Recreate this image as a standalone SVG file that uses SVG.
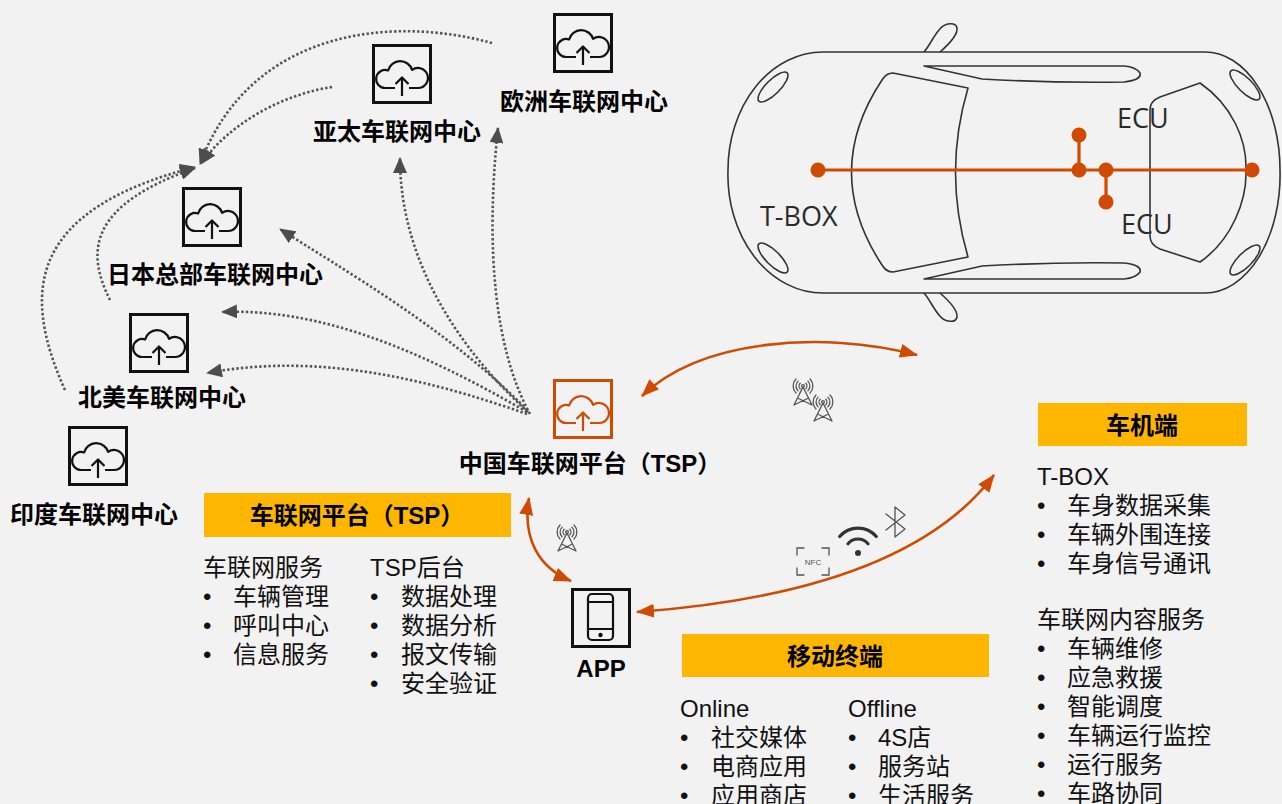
<svg xmlns="http://www.w3.org/2000/svg" width="1282" height="804" viewBox="0 0 1282 804">
<style>
.lbl{font-family:"Liberation Sans","Noto Sans CJK SC",sans-serif;font-weight:700;font-size:24px;fill:#000;text-anchor:middle}
.body{font-family:"Liberation Sans","Noto Sans CJK SC",sans-serif;font-size:24px;fill:#111}
.bar{fill:#ffb600}
.dot-link{fill:none;stroke:#555;stroke-width:2.6;stroke-dasharray:2.4 2.2;marker-end:url(#ah-gray)}
.link{fill:none;stroke:#d04a02;stroke-width:2.6;marker-start:url(#ah-or);marker-end:url(#ah-or)}
.car{fill:none;stroke:#333;stroke-width:1.6;stroke-linejoin:round}
.ico{fill:none;stroke:#555;stroke-width:1.3;stroke-linecap:round}
.cartxt{font-family:"Open Sans","Noto Sans",sans-serif;font-size:27px;fill:#2b2b2b}
.bus{stroke:#d04a02;stroke-width:3.2;fill:none}
.busdot{fill:#d04a02}
</style>
<defs>
  <marker id="ah-gray" markerUnits="userSpaceOnUse" markerWidth="16" markerHeight="14" refX="15" refY="7" orient="auto">
    <path d="M0,0 L16,7 L0,14 Z" fill="#4d4d4d"/>
  </marker>
  <marker id="ah-or" markerUnits="userSpaceOnUse" markerWidth="18" markerHeight="14" refX="17" refY="7" orient="auto-start-reverse">
    <path d="M0,0 L18,7 L0,14 Z" fill="#d04a02"/>
  </marker>
  <symbol id="cloud" viewBox="0 0 60 60">
    <rect x="1.5" y="1.5" width="57" height="57" fill="none" stroke="currentColor" stroke-width="3"/>
    <g fill="none" stroke="currentColor" stroke-width="2.2" stroke-linejoin="round">
      <path d="M23,44 H13 A9,9 0 1 1 16.1,26.5 A12.5,12.5 0 0 1 40.1,25.9 A10,10 0 1 1 46,44 H37"/>
      <path d="M30,52 V34 M23.5,40 L30,33.5 L36.5,40"/>
    </g>
  </symbol>
  <symbol id="tower" viewBox="-12 -12 24 32" overflow="visible">
    <g class="ico">
      <path d="M0,1 L-9,19 M0,1 L9,19 M-5.5,12 L9,19 M5.5,12 L-9,19"/>
      <circle cx="0" cy="0" r="1.4"/>
      <path d="M-2.8,-2.8 A4,4 0 0 0 -2.8,2.8 M2.8,-2.8 A4,4 0 0 1 2.8,2.8"/>
      <path d="M-4.9,-4.9 A7,7 0 0 0 -4.9,4.9 M4.9,-4.9 A7,7 0 0 1 4.9,4.9"/>
      <path d="M-7,-7 A10,10 0 0 0 -7,7 M7,-7 A10,10 0 0 1 7,7"/>
    </g>
  </symbol>
</defs>

<rect width="1282" height="804" fill="#f2f2f2"/>

<!-- car seen from above, with the in-vehicle bus -->
<g id="car">
  <path class="car" d="M823,52 H1205 A75,118 0 0 1 1280,170 A75,118 0 0 1 1205,293 H823 A95,118 0 0 1 728,170 A95,118 0 0 1 823,52 Z"/>
  <path class="car" d="M924,52 C930,45 933,37 939,30 C945,22 956,22 957,28 C958,35 948,45 940,52"/>
  <path class="car" d="M924,293 C930,300 933,308 939,315 C945,323 956,323 957,317 C958,310 948,300 940,293"/>
  <ellipse class="car" cx="773" cy="87" rx="20" ry="7" transform="rotate(-45 773 87)"/>
  <ellipse class="car" cx="773" cy="258" rx="20" ry="7" transform="rotate(45 773 258)"/>
  <ellipse class="car" cx="1245" cy="85" rx="20" ry="7" transform="rotate(45 1245 85)"/>
  <ellipse class="car" cx="1245" cy="260" rx="20" ry="7" transform="rotate(-45 1245 260)"/>
  <path class="car" d="M893,73 L968,88 Q943,172 968,257 L893,272 Q886,272 882,265 Q821,172 882,80 Q886,73 893,73 Z"/>
  <path class="car" d="M924,66 L982,79 Q1050,83 1124,82 Q1142,80 1140,73 Q1136,67 1124,66 Z"/>
  <path class="car" d="M924,279 L982,266 Q1050,262 1124,263 Q1142,265 1140,272 Q1136,278 1124,279 Z"/>
  <path class="car" d="M1200,83 C1232,105 1247,140 1246,170 C1247,200 1232,240 1200,262 L1160,249 Q1150,245 1150,236 V110 Q1150,101 1160,97 Z"/>
  <g id="bus">
    <path class="bus" d="M818,170 H1252 M1079,170 V135 M1106,170 V202"/>
    <circle class="busdot" cx="818" cy="170" r="7.5"/>
    <circle class="busdot" cx="1079" cy="170" r="7.5"/>
    <circle class="busdot" cx="1079" cy="135" r="7.5"/>
    <circle class="busdot" cx="1106" cy="170" r="7.5"/>
    <circle class="busdot" cx="1106" cy="202" r="7.5"/>
    <circle class="busdot" cx="1252" cy="170" r="7.5"/>
  </g>
  <text class="cartxt" x="1117" y="128">ECU</text>
  <text class="cartxt" x="1121" y="234">ECU</text>
  <text class="cartxt" x="760" y="226">T-BOX</text>
</g>

<!-- connectors -->
<g id="connectors">
  <path class="dot-link" d="M528,412 C460,350 400,262 400,158"/>
  <path class="dot-link" d="M530,414 C495,350 485,250 498,128"/>
  <path class="dot-link" d="M527,410 C450,330 340,268 280,229"/>
  <path class="dot-link" d="M527,412 C420,350 320,308 222,312"/>
  <path class="dot-link" d="M527,414 C430,380 320,352 207,373"/>
  <path class="dot-link" d="M492,43 C390,15 250,30 200,164"/>
  <path class="dot-link" d="M332,87 C280,95 228,125 201,164"/>
  <path class="dot-link" d="M65,390 C20,290 30,210 195,167"/>
  <path class="dot-link" d="M110,300 C85,250 90,205 195,168"/>
  <path class="link" d="M642,396 C700,340 820,330 917,355"/>
  <path class="link" d="M529,498 C522,540 540,568 571,581"/>
  <path class="link" d="M637,612 C800,600 930,560 994,475"/>
</g>

<!-- wireless icons along the links -->
<g id="radio-icons">
  <use href="#tower" x="791" y="374" width="24" height="32"/>
  <use href="#tower" x="811" y="390" width="24" height="32"/>
  <use href="#tower" x="555" y="520" width="24" height="32"/>
  <g id="nfc" class="ico" stroke-width="1.8">
    <path d="M797,555 V548 H804 M822,548 H829 V555 M829,568 V575 H822 M804,575 H797 V568"/>
    <text x="813" y="565" font-family="Liberation Sans,sans-serif" font-size="8" fill="#555" stroke="none" text-anchor="middle">NFC</text>
  </g>
  <g id="wifi" fill="none" stroke="#333" stroke-width="3.2" stroke-linecap="round">
    <path d="M848,543.7 A13,13 0 0 1 868,543.7"/>
    <path d="M839.7,536.5 A24,24 0 0 1 876.3,536.5"/>
    <circle cx="858" cy="553" r="3" fill="#333" stroke="none"/>
  </g>
  <path id="bluetooth" class="ico" stroke-width="1.8" stroke-linejoin="round" d="M886,514 L905,529 L895,537 V507 L905,515 L886,530"/>
</g>

<!-- regional centres -->
<g id="node-eu">
  <use href="#cloud" x="553" y="13" width="60" height="60" color="#111"/>
  <text class="lbl" x="584" y="110">欧洲车联网中心</text>
</g>
<g id="node-apac">
  <use href="#cloud" x="372" y="44" width="60" height="60" color="#111"/>
  <text class="lbl" x="397" y="140">亚太车联网中心</text>
</g>
<g id="node-jp">
  <use href="#cloud" x="182" y="187" width="60" height="60" color="#111"/>
  <text class="lbl" x="215" y="283">日本总部车联网中心</text>
</g>
<g id="node-na">
  <use href="#cloud" x="129" y="313" width="60" height="60" color="#111"/>
  <text class="lbl" x="162" y="406">北美车联网中心</text>
</g>
<g id="node-in">
  <use href="#cloud" x="68" y="426" width="60" height="60" color="#111"/>
  <text class="lbl" x="94" y="523">印度车联网中心</text>
</g>
<g id="node-cn">
  <use href="#cloud" x="553" y="379" width="60" height="60" color="#d04a02"/>
  <text class="lbl" x="590" y="472">中国车联网平台（TSP）</text>
</g>

<!-- mobile app -->
<g id="node-app">
  <rect x="572.5" y="589.5" width="57" height="57" fill="none" stroke="#111" stroke-width="3"/>
  <rect x="588" y="594" width="25" height="46" rx="4" fill="none" stroke="#111" stroke-width="2.2"/>
  <path d="M588,602 H613 M588,629 H613" stroke="#111" stroke-width="2.2"/>
  <circle cx="600.5" cy="635" r="2.2" fill="#111"/>
  <text class="lbl" x="601" y="677">APP</text>
</g>

<!-- platform block -->
<g id="block-tsp">
  <rect class="bar" x="204" y="493" width="307" height="44"/>
  <text class="lbl" x="357" y="524">车联网平台（TSP）</text>
  <text class="body" x="203" y="576">车联网服务</text>
  <text class="body" x="203" y="605">•</text><text class="body" x="233" y="605">车辆管理</text>
  <text class="body" x="203" y="634">•</text><text class="body" x="233" y="634">呼叫中心</text>
  <text class="body" x="203" y="663">•</text><text class="body" x="233" y="663">信息服务</text>
  <text class="body" x="370" y="576">TSP后台</text>
  <text class="body" x="370" y="605">•</text><text class="body" x="401" y="605">数据处理</text>
  <text class="body" x="370" y="634">•</text><text class="body" x="401" y="634">数据分析</text>
  <text class="body" x="370" y="663">•</text><text class="body" x="401" y="663">报文传输</text>
  <text class="body" x="370" y="692">•</text><text class="body" x="401" y="692">安全验证</text>
</g>

<!-- mobile terminal block -->
<g id="block-mobile">
  <rect class="bar" x="682" y="634" width="307" height="43"/>
  <text class="lbl" x="835" y="665">移动终端</text>
  <text class="body" x="680" y="717">Online</text>
  <text class="body" x="680" y="746">•</text><text class="body" x="711" y="746">社交媒体</text>
  <text class="body" x="680" y="775">•</text><text class="body" x="711" y="775">电商应用</text>
  <text class="body" x="680" y="804">•</text><text class="body" x="711" y="804">应用商店</text>
  <text class="body" x="848" y="717">Offline</text>
  <text class="body" x="848" y="746">•</text><text class="body" x="878" y="746">4S店</text>
  <text class="body" x="848" y="775">•</text><text class="body" x="878" y="775">服务站</text>
  <text class="body" x="848" y="804">•</text><text class="body" x="878" y="804">生活服务</text>
</g>

<!-- head unit block -->
<g id="block-headunit">
  <rect class="bar" x="1038" y="403" width="209" height="43"/>
  <text class="lbl" x="1142" y="434">车机端</text>
  <text class="body" x="1037" y="485">T-BOX</text>
  <text class="body" x="1037" y="514">•</text><text class="body" x="1067" y="514">车身数据采集</text>
  <text class="body" x="1037" y="543">•</text><text class="body" x="1067" y="543">车辆外围连接</text>
  <text class="body" x="1037" y="572">•</text><text class="body" x="1067" y="572">车身信号通讯</text>
  <text class="body" x="1037" y="628">车联网内容服务</text>
  <text class="body" x="1037" y="657">•</text><text class="body" x="1067" y="657">车辆维修</text>
  <text class="body" x="1037" y="686">•</text><text class="body" x="1067" y="686">应急救援</text>
  <text class="body" x="1037" y="715">•</text><text class="body" x="1067" y="715">智能调度</text>
  <text class="body" x="1037" y="744">•</text><text class="body" x="1067" y="744">车辆运行监控</text>
  <text class="body" x="1037" y="773">•</text><text class="body" x="1067" y="773">运行服务</text>
  <text class="body" x="1037" y="802">•</text><text class="body" x="1067" y="802">车路协同</text>
</g>
</svg>
